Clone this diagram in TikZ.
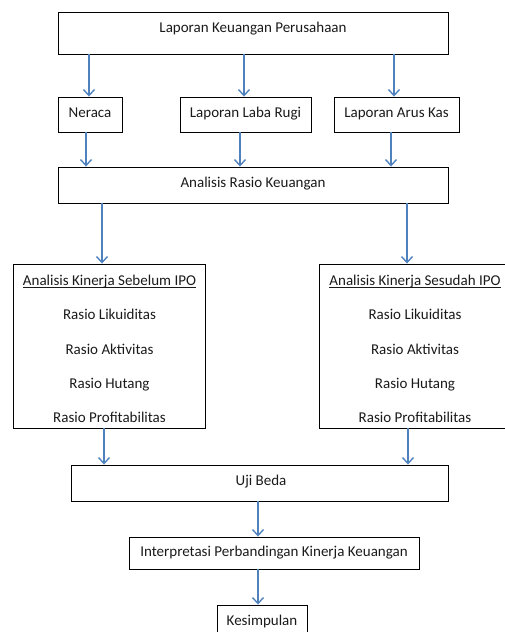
\documentclass[tikz,border=0pt]{standalone}
\usepackage{fontspec}
\setmainfont{Carlito}
\usetikzlibrary{arrows.meta}
\definecolor{arrblue}{HTML}{4F81BD}
\definecolor{txtcol}{HTML}{1A1A1A}
\begin{document}
\begin{tikzpicture}[x=1pt,y=-1pt,
  box/.style={draw=black, line width=0.9pt, inner sep=0pt},
  txt/.style={inner sep=0pt, anchor=base, text=txtcol, font=\fontsize{15}{18}\selectfont},
  uline/.style={draw=txtcol, line width=0.8pt},
  arr/.style={draw=arrblue, line width=1.4pt, -{Straight Barb[length=6pt,width=11pt,line width=1.4pt]}}]
\useasboundingbox (0,0) rectangle (505,632);
\clip (0,0) rectangle (505,632);
\node[box, minimum width=390pt, minimum height=42pt] (top) at (253,33) {};
\node[txt] (topt) at (253,32) {Laporan Keuangan Perusahaan};
\node[box, minimum width=64pt, minimum height=35pt] (ner) at (90,114.5) {};
\node[txt] (nert) at (90,117) {Neraca};
\node[box, minimum width=131pt, minimum height=35pt] (lr) at (245.5,114.5) {};
\node[txt] (lrt) at (245.5,117) {Laporan Laba Rugi};
\node[box, minimum width=125pt, minimum height=35pt] (ak) at (396.5,114.5) {};
\node[txt] (akt) at (396.5,117) {Laporan Arus Kas};
\node[box, minimum width=390pt, minimum height=36pt] (ark) at (253,185) {};
\node[txt] (arkt) at (253,187) {Analisis Rasio Keuangan};
\node[box, minimum width=192pt, minimum height=164pt] (lb) at (109,346) {};
\node[box, minimum width=192pt, minimum height=164pt] (rb) at (415,346) {};
\node[txt] (lt) at (109.5,285) {Analisis Kinerja Sebelum IPO};
\draw[uline] ([yshift=-2pt]lt.base west) -- ([yshift=-2pt]lt.base east);
\node[txt] (l1) at (109.5,319.5) {Rasio Likuiditas};
\node[txt] (l2) at (109.5,354) {Rasio Aktivitas};
\node[txt] (l3) at (109.5,388) {Rasio Hutang};
\node[txt] (l4) at (109.5,422) {Rasio Profitabilitas};
\node[txt] (rt) at (415,285) {Analisis Kinerja Sesudah IPO};
\draw[uline] ([yshift=-2pt]rt.base west) -- ([yshift=-2pt]rt.base east);
\node[txt] (r1) at (415,319.5) {Rasio Likuiditas};
\node[txt] (r2) at (415,354) {Rasio Aktivitas};
\node[txt] (r3) at (415,388) {Rasio Hutang};
\node[txt] (r4) at (415,422) {Rasio Profitabilitas};
\node[box, minimum width=377pt, minimum height=36pt] (uji) at (259.5,483) {};
\node[txt] (ujit) at (261,485) {Uji Beda};
\node[box, minimum width=290pt, minimum height=32pt] (int) at (274,553) {};
\node[txt] (intt) at (274,556.5) {Interpretasi Perbandingan Kinerja Keuangan};
\node[box, minimum width=90pt, minimum height=34pt] (kes) at (262,622) {};
\node[txt] (kest) at (262,625) {Kesimpulan};
% arrows
\draw[arr] ([xshift=-1pt]top.south -| ner.north) -- ([xshift=-1pt]ner.north);
\draw[arr] ([xshift=-1.5pt]top.south -| lr.north) -- ([xshift=-1.5pt]lr.north);
\draw[arr] ([xshift=-2.5pt]top.south -| ak.north) -- ([xshift=-2.5pt]ak.north);
\draw[arr] ([xshift=-4pt]ner.south) -- ([xshift=-4pt]ark.north -| ner.south);
\draw[arr] ([xshift=-5.5pt]lr.south) -- ([xshift=-5.5pt]ark.north -| lr.south);
\draw[arr] ([xshift=-5.5pt]ak.south) -- ([xshift=-5.5pt]ark.north -| ak.south);
\draw[arr] ([xshift=-7pt]ark.south -| lb.north) -- ([xshift=-7pt]lb.north);
\draw[arr] ([xshift=-8pt]ark.south -| rb.north) -- ([xshift=-8pt]rb.north);
\draw[arr] ([xshift=-5pt]lb.south) -- ([xshift=-5pt]uji.north -| lb.south);
\draw[arr] ([xshift=-7pt]rb.south) -- ([xshift=-7pt]uji.north -| rb.south);
\draw[arr] ([xshift=-1.5pt]uji.south) -- ([xshift=-1.5pt]int.north -| uji.south);
\draw[arr] ([xshift=-16pt]int.south) -- ([xshift=-16pt]kes.north -| int.south);
\end{tikzpicture}
\end{document}
